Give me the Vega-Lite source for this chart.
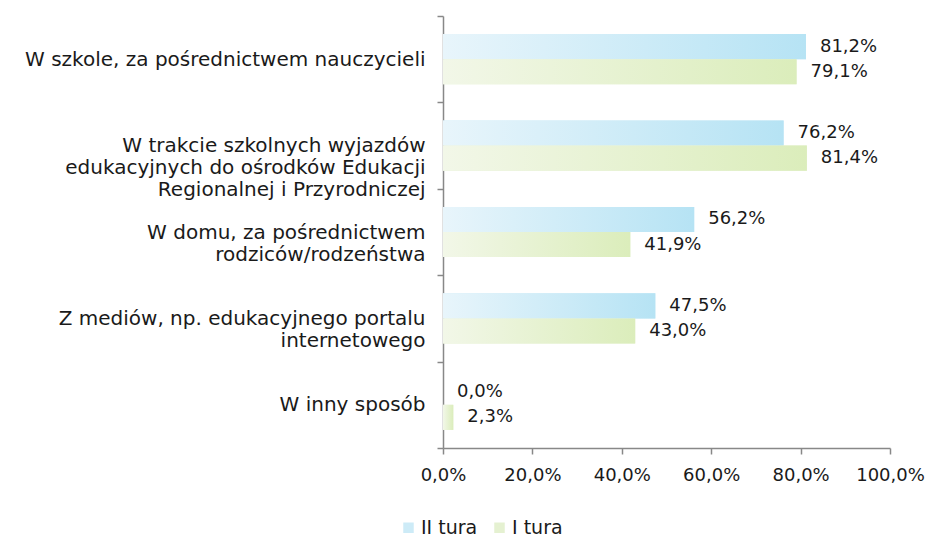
{
  "$schema": "https://vega.github.io/schema/vega-lite/v6.json",
  "autosize": {"type": "none"},
  "padding": {"left": 443, "top": 16, "right": 38, "bottom": 88},
  "width": 447,
  "height": 432,
  "background": "white",
  "config": {
    "locale": {"number": {"decimal": ",", "thousands": " ", "grouping": [3], "currency": ["", " zł"]}},
    "view": {"stroke": null},
    "font": "DejaVu Sans"
  },
  "data": {
    "values": [
      {"cat": "W szkole, za pośrednictwem nauczycieli", "tura": "II tura", "value": 0.812},
      {"cat": "W szkole, za pośrednictwem nauczycieli", "tura": "I tura", "value": 0.791},
      {"cat": "W trakcie szkolnych wyjazdów|edukacyjnych do ośrodków Edukacji|Regionalnej i Przyrodniczej", "tura": "II tura", "value": 0.762},
      {"cat": "W trakcie szkolnych wyjazdów|edukacyjnych do ośrodków Edukacji|Regionalnej i Przyrodniczej", "tura": "I tura", "value": 0.814},
      {"cat": "W domu, za pośrednictwem|rodziców/rodzeństwa", "tura": "II tura", "value": 0.562},
      {"cat": "W domu, za pośrednictwem|rodziców/rodzeństwa", "tura": "I tura", "value": 0.419},
      {"cat": "Z mediów, np. edukacyjnego portalu|internetowego", "tura": "II tura", "value": 0.475},
      {"cat": "Z mediów, np. edukacyjnego portalu|internetowego", "tura": "I tura", "value": 0.430},
      {"cat": "W inny sposób", "tura": "II tura", "value": 0.0},
      {"cat": "W inny sposób", "tura": "I tura", "value": 0.023}
    ]
  },
  "encoding": {
    "y": {
      "field": "cat",
      "type": "nominal",
      "sort": null,
      "scale": {"paddingInner": 0, "paddingOuter": 0},
      "axis": {
        "title": null,
        "labelExpr": "split(datum.label, '|')",
        "labelAlign": "right",
        "labelFontSize": 20,
        "labelLineHeight": 22,
        "labelColor": "#1a1a1a",
        "labelPadding": 12,
        "labelLimit": 600,
        "tickBand": "extent",
        "tickSize": 6,
        "tickColor": "#888888",
        "domainColor": "#888888",
        "domainWidth": 1.5,
        "tickWidth": 1.5
      }
    },
    "yOffset": {
      "field": "tura",
      "type": "nominal",
      "scale": {"domain": ["II tura", "I tura"], "paddingInner": 0, "paddingOuter": 0.72}
    },
    "x": {
      "field": "value",
      "type": "quantitative",
      "scale": {"domain": [0, 1]},
      "axis": {
        "title": null,
        "format": ".1%",
        "values": [0, 0.2, 0.4, 0.6, 0.8, 1.0],
        "grid": false,
        "labelFontSize": 18,
        "labelColor": "#1a1a1a",
        "labelPadding": 12,
        "tickSize": 6,
        "tickColor": "#888888",
        "domainColor": "#888888",
        "domainWidth": 1.5,
        "tickWidth": 1.5,
        "labelFlush": false
      }
    }
  },
  "layer": [
    {
      "mark": {"type": "bar"},
      "encoding": {
        "color": {
          "field": "tura",
          "type": "nominal",
          "scale": {"domain": ["II tura", "I tura"], "range": ["#cdebf7", "#e5f1d1"]},
          "legend": {
            "title": null,
            "orient": "none",
            "direction": "horizontal",
            "legendX": -44,
            "legendY": 502,
            "symbolType": "square",
            "symbolSize": 110,
            "symbolStrokeWidth": 0,
            "labelFontSize": 19,
            "labelColor": "#1a1a1a",
            "labelOffset": 3,
            "columnPadding": 12
          }
        }
      }
    },
    {
      "transform": [{"filter": "datum.tura == 'II tura'"}],
      "mark": {"type": "bar", "color": {"gradient": "linear", "x1": 0, "y1": 0, "x2": 1, "y2": 0, "stops": [{"offset": 0, "color": "#e8f5fb"}, {"offset": 1, "color": "#b6e3f4"}]}},
      "encoding": {}
    },
    {
      "transform": [{"filter": "datum.tura == 'I tura'"}],
      "mark": {"type": "bar", "color": {"gradient": "linear", "x1": 0, "y1": 0, "x2": 1, "y2": 0, "stops": [{"offset": 0, "color": "#f2f7e8"}, {"offset": 1, "color": "#dbedbb"}]}},
      "encoding": {}
    },
    {
      "mark": {"type": "text", "align": "left", "baseline": "middle", "dx": 14, "fontSize": 18, "color": "#1a1a1a"},
      "encoding": {
        "text": {"field": "value", "type": "quantitative", "format": ".1%"}
      }
    }
  ]
}
